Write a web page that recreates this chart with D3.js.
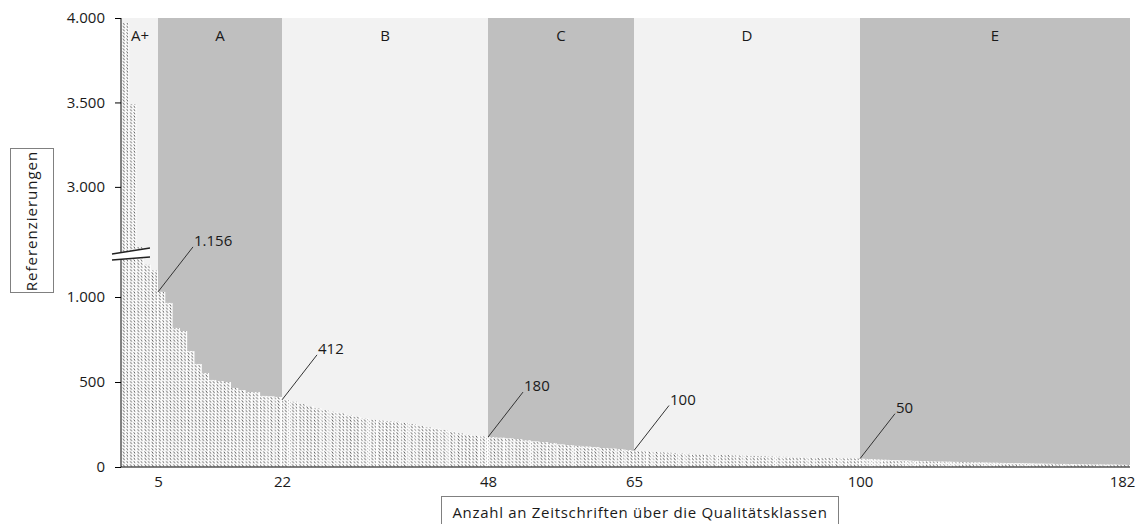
<!DOCTYPE html>
<html>
<head>
<meta charset="utf-8">
<script src="https://cdn.jsdelivr.net/npm/d3@7"></script>
<style>
  body { margin: 0; background: #fff; }
  text { font-family: "Open Sans", "Noto Sans", sans-serif; fill: #1a1a1a; }
</style>
</head>
<body>
<svg width="1140" height="524"></svg>
<script>
// quality classes and where they end (journal rank)
var classes = ["A+", "A", "B", "C", "D", "E"];
var classBounds = [0, 5, 22, 48, 65, 100, 182];

// references per journal, one array per class
var valuesAplus = [3970, 3490, 1294, 1190, 1156];
var valuesA = [1030, 965, 818, 800, 682, 606, 553, 512, 506, 500, 465, 453, 441, 440, 418, 415, 412];
var valuesB = [395, 384, 370, 359, 345, 335, 325, 316, 306, 296, 286, 278, 273, 270, 267, 260,
               253, 241, 233, 227, 218, 208, 198, 190, 184, 180];
var valuesC = [176, 172, 168, 163, 156, 150, 146, 140, 132, 128, 124, 120, 116, 111, 108, 104, 100];
var valuesD = [97, 94, 91, 88, 86, 84, 82, 80, 78, 77, 75, 74, 72, 71, 70, 68, 67, 66, 65, 64,
               63, 62, 61, 60, 59, 58, 57, 56, 55, 54, 53, 52, 51, 51, 50];
var valuesE = [49, 48, 47, 46, 45, 44, 43, 43, 42, 41, 40, 40, 39, 38, 38, 37, 36, 36, 35, 35,
               34, 34, 33, 33, 32, 32, 31, 31, 30, 30, 29, 29, 28, 28, 27, 27, 27, 26, 26, 25,
               25, 25, 24, 24, 23, 23, 23, 22, 22, 22, 21, 21, 21, 20, 20, 20, 19, 19, 19, 18,
               18, 18, 18, 17, 17, 17, 16, 16, 16, 16, 15, 15, 15, 15, 14, 14, 14, 14, 13, 13,
               13, 12];

// ticks and labelled points
var xTicks = [5, 22, 48, 65, 100, 182];
var yTicks = [0, 500, 1000, 3000, 3500, 4000];
var labelRanks = [5, 22, 48, 65, 100];

var values = valuesAplus.concat(valuesA, valuesB, valuesC, valuesD, valuesE);
var data = values.map(function(v, i) { return {rank: i + 1, value: v}; });

// german number format: 1.156
var de = d3.formatLocale({decimal: ",", thousands: ".", grouping: [3], currency: ["", " €"]});
var fmt = de.format(",d");

var svg = d3.select("svg");

// layout: the x axis is stretched per class, the y axis has a break
var xStops = [122, 158, 282, 488, 634, 860, 1130];
var x = d3.scaleLinear().domain(classBounds).range(xStops);
var y = d3.scaleLinear().domain([0, 1300, 2650, 4000]).range([467, 246, 246, 18]);

// hatch pattern for the bars
var defs = svg.append("defs");
var pat = defs.append("pattern")
    .attr("id", "hatch")
    .attr("patternUnits", "userSpaceOnUse")
    .attr("width", 3.6)
    .attr("height", 3.2);
pat.append("rect").attr("width", 3.6).attr("height", 3.2).attr("fill", "#fff");
pat.append("line")
    .attr("x1", 0.6).attr("y1", 0.3)
    .attr("x2", 2.3).attr("y2", 2.6)
    .attr("stroke", "#3a3a3a")
    .attr("stroke-width", 0.8);

// class bands
svg.append("g").selectAll("rect")
  .data(classes)
  .enter().append("rect")
    .attr("x", function(d, i) { return x(classBounds[i]); })
    .attr("y", y(4000))
    .attr("width", function(d, i) { return x(classBounds[i + 1]) - x(classBounds[i]); })
    .attr("height", y(0) - y(4000))
    .attr("fill", function(d, i) { return i % 2 ? "#bfbfbf" : "#f2f2f2"; });

// class names at the top
svg.append("g").selectAll("text")
  .data(classes)
  .enter().append("text")
    .attr("x", function(d, i) { return (x(classBounds[i]) + x(classBounds[i + 1])) / 2; })
    .attr("y", 41)
    .attr("text-anchor", "middle")
    .style("font-size", "15px")
    .text(function(d) { return d; });

// bars, one per journal: white body with a hatched column
var bars = svg.append("g").selectAll("g")
  .data(data)
  .enter().append("g");
bars.append("rect")
    .attr("x", function(d) { return x(d.rank - 1); })
    .attr("y", function(d) { return y(d.value); })
    .attr("width", function(d) { return x(d.rank) - x(d.rank - 1); })
    .attr("height", function(d) { return y(0) - y(d.value); })
    .attr("fill", "#fff");
bars.append("rect")
    .attr("x", function(d) { return x(d.rank - 1); })
    .attr("y", function(d) { return y(d.value); })
    .attr("width", function(d) { return Math.max(x(d.rank) - x(d.rank - 1) - 1, 1); })
    .attr("height", function(d) { return y(0) - y(d.value); })
    .attr("fill", "url(#hatch)");

// y axis
var yAxis = svg.append("g")
    .attr("transform", "translate(121,0)")
    .call(d3.axisLeft(y).tickValues(yTicks).tickFormat(fmt).tickSize(6).tickPadding(10));
yAxis.select(".domain").attr("stroke", "#000").attr("d", "M0," + y(4000) + "V" + y(0));
yAxis.selectAll("line").attr("stroke", "#000");
yAxis.selectAll("text").style("font-size", "15px").attr("fill", "#1a1a1a");

// axis break marks
var yb = y(1300);
var brk = svg.append("g");
brk.append("path")
    .attr("d", "M112," + (yb + 8) + "L150," + (yb + 2) + "L150," + (yb + 11) + "L112," + (yb + 14) + "Z")
    .attr("fill", "#fff");
brk.append("line").attr("x1", 112).attr("y1", yb + 8).attr("x2", 150).attr("y2", yb + 2)
    .attr("stroke", "#222").attr("stroke-width", 1.3);
brk.append("line").attr("x1", 112).attr("y1", yb + 14).attr("x2", 150).attr("y2", yb + 11)
    .attr("stroke", "#222").attr("stroke-width", 1.3);

// x axis
var xAxis = svg.append("g")
    .attr("transform", "translate(0," + y(0) + ")")
    .call(d3.axisBottom(x).tickValues(xTicks).tickSize(0).tickPadding(9));
xAxis.select(".domain").attr("stroke", "#000").attr("d", "M121,0H1130");
xAxis.selectAll("text").style("font-size", "15px").attr("fill", "#1a1a1a");
xAxis.selectAll(".tick").filter(function(d) { return d === 182; }).select("text").attr("x", -8);

// value labels with leader lines, starting at the top of the next bar
function startY(d) { return y(values[d]); }
var ann = svg.append("g").selectAll("g")
  .data(labelRanks)
  .enter().append("g");
ann.append("line")
    .attr("x1", function(d) { return x(d); })
    .attr("y1", function(d) { return startY(d); })
    .attr("x2", function(d) { return x(d) + 35; })
    .attr("y2", function(d) { return startY(d) - 45; })
    .attr("stroke", "#333")
    .attr("stroke-width", 1);
ann.append("text")
    .attr("x", function(d) { return x(d) + 36; })
    .attr("y", function(d) { return startY(d) - 46; })
    .style("font-size", "15px")
    .text(function(d) { return fmt(values[d - 1]); });

// axis titles in boxes
svg.append("rect")
    .attr("x", 10.5).attr("y", 148.5).attr("width", 43).attr("height", 144)
    .attr("fill", "#fff").attr("stroke", "#808080");
svg.append("text")
    .attr("transform", "translate(37,221) rotate(-90)")
    .attr("text-anchor", "middle")
    .style("font-size", "15px")
    .style("letter-spacing", "1px")
    .text("Referenzierungen");

svg.append("rect")
    .attr("x", 441.5).attr("y", 496.5).attr("width", 397).attr("height", 30)
    .attr("fill", "#fff").attr("stroke", "#808080");
svg.append("text")
    .attr("x", 640)
    .attr("y", 518)
    .attr("text-anchor", "middle")
    .style("font-size", "15px")
    .style("letter-spacing", "0.7px")
    .text("Anzahl an Zeitschriften über die Qualitätsklassen");
</script>
</body>
</html>
